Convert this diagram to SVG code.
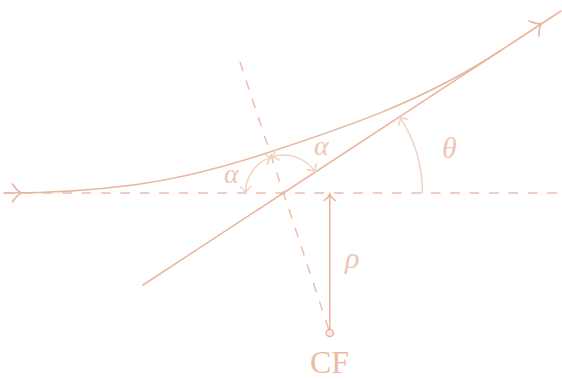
<svg xmlns="http://www.w3.org/2000/svg" width="562" height="380" viewBox="0 0 562 380">
<style>
.ln{fill:none;stroke:#E8B59C;stroke-width:1.5;stroke-linecap:round}
.dash{fill:none;stroke:#ECBFA8;stroke-width:1.5;stroke-dasharray:9.7 9.7}
.arc{fill:none;stroke:#F1D2C2;stroke-width:1.5}
.ah{fill:none;stroke:#E8B59C;stroke-width:1.6;stroke-linecap:round}
.lab{font-family:"Liberation Serif","DejaVu Serif",serif;font-style:italic;fill:#EEC6B2}
.cf{font-family:"Liberation Serif","DejaVu Serif",serif;fill:#EBBCA4}
</style>
<defs>
<marker id="mA" viewBox="-8 -7 10 14" refX="0" refY="0" markerWidth="10" markerHeight="14" markerUnits="userSpaceOnUse" orient="auto-start-reverse">
<path d="M-6.5,-5.5 C-4,-2 -1.5,-0.5 0,0 C-1.5,0.5 -4,2 -6.5,5.5" fill="none" stroke="#F1D2C2" stroke-width="1.5" stroke-linecap="round"/>
</marker>
<marker id="mR" viewBox="-8 -7 10 14" refX="0" refY="0" markerWidth="10" markerHeight="14" markerUnits="userSpaceOnUse" orient="auto-start-reverse">
<path d="M-6.5,-5.5 C-4,-2 -1.5,-0.5 0,0 C-1.5,0.5 -4,2 -6.5,5.5" fill="none" stroke="#E8B59C" stroke-width="1.5" stroke-linecap="round"/>
</marker>
</defs>
<rect width="562" height="380" fill="#FFFFFF"/>
<g id="connectors">
<g id="axis"><line class="dash" x1="4" y1="193" x2="562" y2="193"/></g>
<g id="normal"><line class="dash" x1="240" y1="62" x2="328.6" y2="329"/></g>
<g id="asymptote"><line class="ln" x1="143" y1="285" x2="561" y2="11"/></g>
<g id="trajectory">
<path class="ln" d="M4,193 L8,193 C50,193 91,190.5 133,185 C177.7,179.2 222.3,167.7 267,153 C344.7,127.4 422.3,101.9 500,51"/>
<path class="ah" d="M-9,-9 C-5,-3 -2,-0.8 0,0 C-2,0.8 -5,3 -9,9" transform="translate(21.5,193)"/>
<path class="ah" d="M-9,-9 C-5,-3 -2,-0.8 0,0 C-2,0.8 -5,3 -9,9" transform="translate(541.5,23.5) rotate(-33.2)"/>
</g>
<g id="angles">
<path class="arc" d="M271.5,156.9 A38,38 0 0 0 245.5,193" marker-start="url(#mA)" marker-end="url(#mA)"/>
<path class="arc" d="M271.5,156.9 A38,38 0 0 1 315.3,172.2" marker-start="url(#mA)" marker-end="url(#mA)"/>
<path class="arc" d="M422.5,193 A139,139 0 0 0 399.8,116.8" marker-end="url(#mA)"/>
</g>
<g id="rho-arrow"><line class="ln" x1="329.8" y1="329.5" x2="329.8" y2="194" marker-end="url(#mR)"/></g>
</g>
<g id="cf">
<circle cx="329.8" cy="333" r="3.6" fill="#FBEDE6" stroke="#E8B59C" stroke-width="1.5"/>
<text class="cf" x="329.5" y="373" font-size="32" text-anchor="middle">CF</text>
</g>
<g id="labels">
<text class="lab" x="224" y="183" font-size="28">α</text>
<text class="lab" x="314" y="155" font-size="28">α</text>
<text class="lab" x="442" y="158" font-size="30">θ</text>
<text class="lab" x="345" y="268" font-size="30">ρ</text>
</g>
</svg>
